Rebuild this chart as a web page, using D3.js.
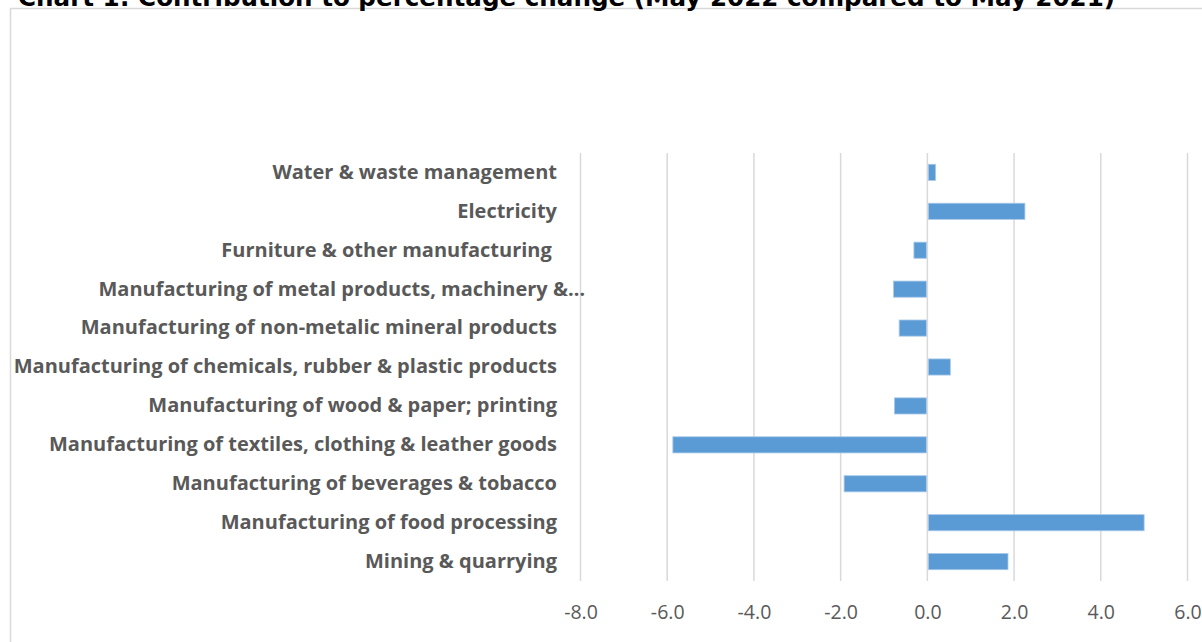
<!DOCTYPE html>
<html><head><meta charset="utf-8">
<script src="https://cdn.jsdelivr.net/npm/d3@7"></script>
<style>html,body{margin:0;padding:0;background:#fff;overflow:hidden}text{white-space:pre}</style>
</head><body>
<svg id="c" width="1202" height="642"></svg>
<script>
const title = "Chart 1: Contribution to percentage change (May 2022 compared to May 2021)";
const categories = [
  "Water & waste management",
  "Electricity",
  "Furniture & other manufacturing ",
  "Manufacturing of metal products, machinery &\u2026",
  "Manufacturing of non-metalic mineral products",
  "Manufacturing of chemicals, rubber & plastic products",
  "Manufacturing of wood & paper; printing",
  "Manufacturing of textiles, clothing & leather goods",
  "Manufacturing of beverages & tobacco",
  "Manufacturing of food processing",
  "Mining & quarrying"
];
const values = [0.19, 2.25, -0.31, -0.78, -0.65, 0.53, -0.76, -5.87, -1.92, 5.0, 1.86];
const tickValues = [-8, -6, -4, -2, 0, 2, 4, 6];

const svg = d3.select("#c");
svg.append("rect").attr("x", 10.5).attr("y", 8.5).attr("width", 1200).attr("height", 650)
  .attr("fill", "#fff").attr("stroke", "#d9d9d9").attr("stroke-width", 1.5);

svg.append("text").attr("x", 18).attr("y", 6).text(title)
  .attr("font-family", "DejaVu Sans").attr("font-size", 24.6).attr("font-weight", "bold").attr("fill", "#000");

const x = d3.scaleLinear().domain([-8, 6]).range([580.5, 1187.5]);
const y = d3.scaleBand().domain(categories).range([153, 581]).paddingInner(0.585).paddingOuter(0.29);

svg.append("g").selectAll("line").data(tickValues).join("line")
  .attr("x1", d => x(d)).attr("x2", d => x(d)).attr("y1", 153).attr("y2", 581)
  .attr("stroke", "#d9d9d9").attr("stroke-width", 1.5);

svg.append("g").selectAll("rect").data(values).join("rect")
  .attr("x", d => Math.min(x(0), x(d)) + (d >= 0 ? 1 : 0))
  .attr("width", d => Math.abs(x(d) - x(0)) - 1)
  .attr("y", (d, i) => y(categories[i]))
  .attr("height", y.bandwidth())
  .attr("fill", "#5b9bd5").attr("stroke", "#a9c9ea").attr("stroke-width", 0.8);

const xAxis = d3.axisBottom(x).tickValues(tickValues).tickFormat(d => d.toFixed(1)).tickSize(0).tickPadding(0);
const gx = svg.append("g").attr("transform", "translate(0,612)").call(xAxis);
gx.select(".domain").remove();
gx.selectAll("text").attr("font-family", "'Open Sans', sans-serif").attr("font-size", 19.5)
  .attr("fill", "#595959").attr("dy", "0.35em");

const yAxis = d3.axisLeft(y).tickSize(0).tickPadding(0);
const gy = svg.append("g").attr("transform", "translate(557,0)").call(yAxis);
gy.select(".domain").remove();
gy.selectAll("text").attr("font-family", "'Open Sans', sans-serif").attr("font-size", 20)
  .attr("font-weight", "bold").attr("fill", "#595959")
  .attr("dx", d => d.endsWith("\u2026") ? 28 : 0);
</script>
</body></html>
